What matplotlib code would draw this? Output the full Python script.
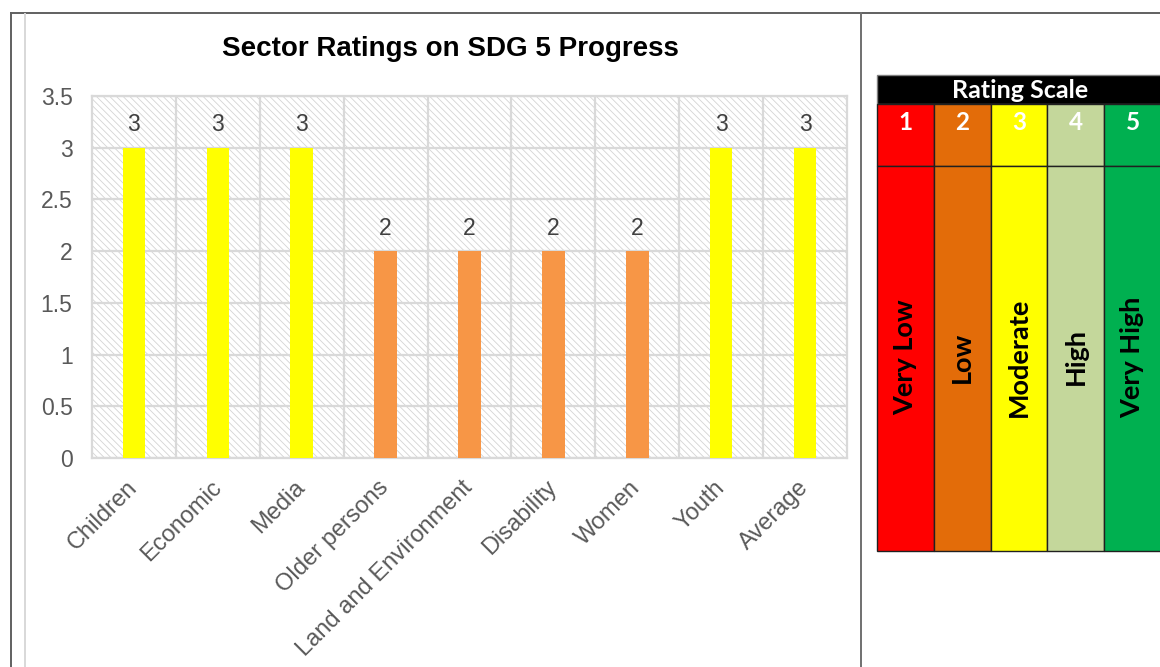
import matplotlib
matplotlib.use("Agg")
import matplotlib.pyplot as plt
from matplotlib.patches import Rectangle
from matplotlib.lines import Line2D

# ---- data ----
categories = ["Children", "Economic", "Media", "Older persons", "Land and Environment",
              "Disability", "Women", "Youth", "Average"]
ratings = [3, 3, 3, 2, 2, 2, 2, 3, 3]
bar_colors = ["#FFFF00", "#FFFF00", "#FFFF00", "#F79646", "#F79646",
              "#F79646", "#F79646", "#FFFF00", "#FFFF00"]
y_ticks = [0, 0.5, 1, 1.5, 2, 2.5, 3, 3.5]
y_tick_labels = ["0", "0.5", "1", "1.5", "2", "2.5", "3", "3.5"]

scale_title = "Rating Scale"
scale_numbers = ["1", "2", "3", "4", "5"]
scale_labels = ["Very Low", "Low", "Moderate", "High", "Very High"]
scale_colors = ["#FF0000", "#E36C09", "#FFFF00", "#C4D79B", "#00B050"]

W, H = 1160, 667
fig = plt.figure(figsize=(W / 100, H / 100), dpi=100)
fig.patch.set_facecolor("white")

def fx(px):
    return px / W

def fy(py):
    return 1 - py / H

plt.rcParams["hatch.color"] = "#D4D4D4"
plt.rcParams["hatch.linewidth"] = 0.6

ax = fig.add_axes([fx(92), fy(458), fx(847) - fx(92), fy(96) - fy(458)])
ax.set_facecolor("white")
ax.add_patch(Rectangle((0, 0), 1, 1, transform=ax.transAxes, facecolor="white",
                       hatch="\\\\\\\\\\", edgecolor="#D4D4D4", linewidth=0, zorder=0))

x = list(range(len(categories)))
ax.bar(x, ratings, width=0.27, color=bar_colors, zorder=3)
for xi, v in zip(x, ratings):
    ax.annotate(str(v), (xi, v), xytext=(0, 16.5), textcoords="offset points",
                ha="center", va="center", fontsize=16.5, color="#404040",
                family="Liberation Sans", zorder=4)

ax.set_xlim(-0.5, len(categories) - 0.5)
ax.set_ylim(0, 3.5)
ax.set_yticks(y_ticks)
ax.set_yticklabels(y_tick_labels, fontsize=16.5, color="#595959", family="Liberation Sans")
ax.set_xticks(x)
ax.set_xticklabels(categories, rotation=45, ha="right", va="center",
                   rotation_mode="anchor", fontsize=17, color="#595959",
                   family="Liberation Sans")
ax.tick_params(axis="y", length=0, pad=14)
ax.tick_params(axis="x", length=0, pad=19)

for yv in y_ticks:
    ax.axhline(yv, color="#D9D9D9", linewidth=1.6, zorder=1)
for b in [i + 0.5 for i in x[:-1]]:
    ax.axvline(b, color="#D9D9D9", linewidth=1.6, zorder=1)
for s in ax.spines.values():
    s.set_color("#D9D9D9")
    s.set_linewidth(1.6)

fig.text(fx(450), fy(48.5), "Sector Ratings on SDG 5 Progress", ha="center", va="center",
         fontsize=20, fontweight="bold", family="Liberation Sans", color="black")

# ---- frame lines ----
fig.add_artist(Line2D([fx(11), fx(1160)], [fy(12.5), fy(12.5)], color="#606060", lw=1.4))
fig.add_artist(Line2D([fx(11), fx(11)], [fy(12.5), fy(667)], color="#606060", lw=1.4))
fig.add_artist(Line2D([fx(861), fx(861)], [fy(12.5), fy(667)], color="#707070", lw=1.4))
fig.add_artist(Line2D([fx(25), fx(25)], [fy(14), fy(667)], color="#D8D8D8", lw=1.4))

# ---- rating scale table ----
tx0, tx1 = 877, 1161
col_w = (tx1 - tx0) / len(scale_colors)
hdr_top, hdr_bot, num_bot, tbl_bot = 75, 104, 166, 551

fig.add_artist(Rectangle((fx(tx0), fy(hdr_bot)), fx(tx1) - fx(tx0), fy(hdr_top) - fy(hdr_bot),
                         transform=fig.transFigure, facecolor="black", edgecolor="#808080", lw=1))
fig.text(fx(1020), fy(90), scale_title, ha="center", va="center", color="white",
         fontsize=18, fontweight="bold", family="Lato")

for i, (num, lab, col) in enumerate(zip(scale_numbers, scale_labels, scale_colors)):
    cx0 = tx0 + i * col_w
    for top, bot in [(hdr_bot, num_bot), (num_bot, tbl_bot)]:
        fig.add_artist(Rectangle((fx(cx0), fy(bot)), fx(col_w), fy(top) - fy(bot),
                                 transform=fig.transFigure, facecolor=col,
                                 edgecolor="#202020", lw=1))
    fig.text(fx(cx0 + col_w / 2), fy(122), num, ha="center", va="center", color="white",
             fontsize=17.5, fontweight="bold", family="Lato")
    fig.text(fx(cx0 + col_w / 2), fy(357), lab, ha="center", va="center", color="black",
             rotation=90, fontsize=19.5, fontweight="bold", family="Lato")

fig.savefig("out.png", dpi=100, facecolor="white")
